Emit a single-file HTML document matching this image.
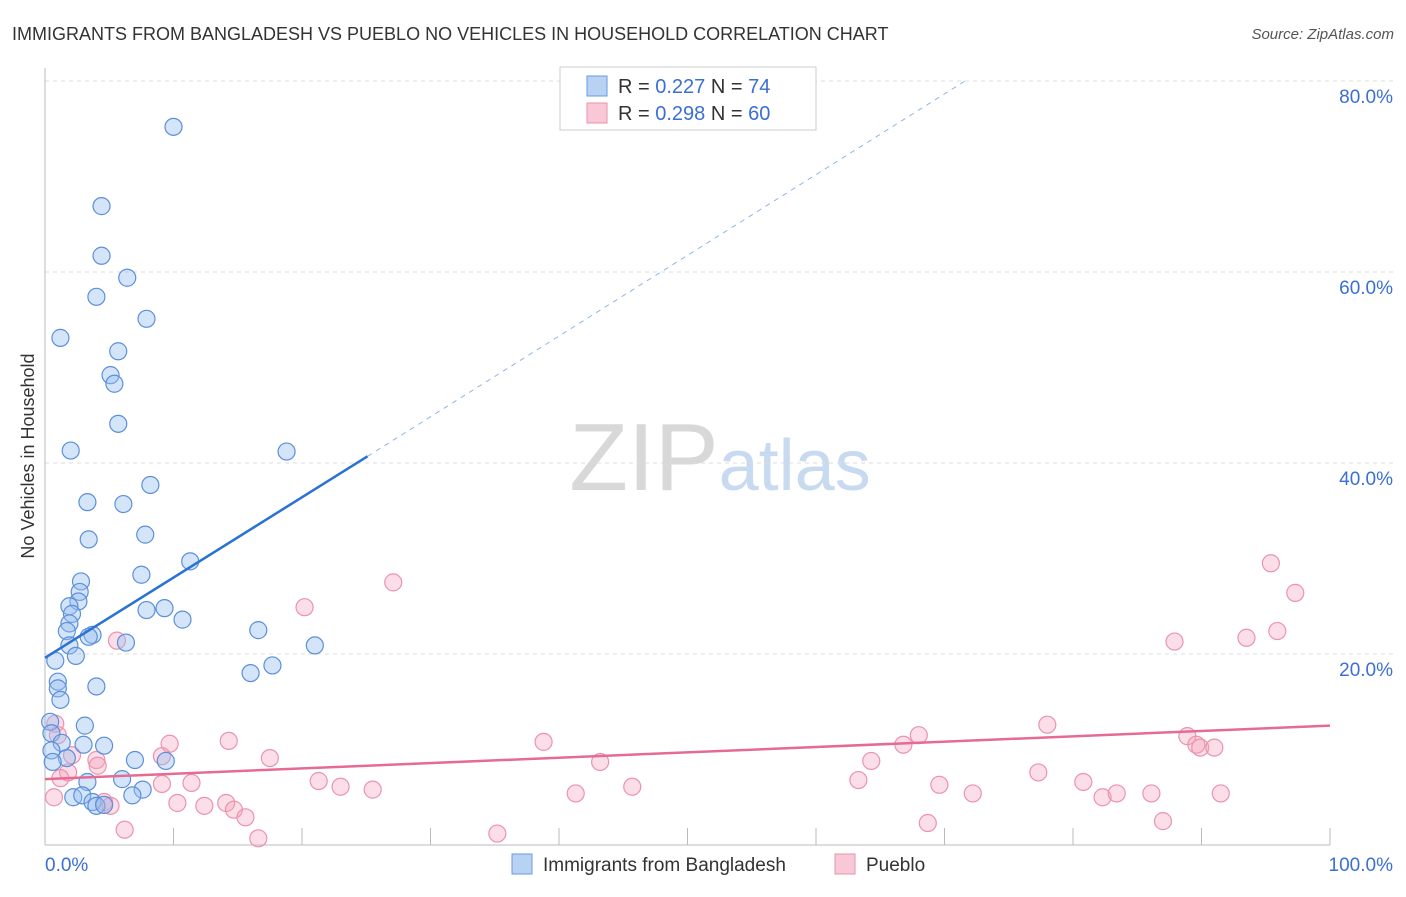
<!DOCTYPE html>
<html><head><meta charset="utf-8"><style>
body{margin:0;background:#fff;font-family:"Liberation Sans",sans-serif;}
svg text{font-family:"Liberation Sans",sans-serif;}
</style></head><body>
<svg width="1406" height="892" id="c">
<text x="12" y="40" font-size="18" fill="#333">IMMIGRANTS FROM BANGLADESH VS PUEBLO NO VEHICLES IN HOUSEHOLD CORRELATION CHART</text>
<text x="1394" y="39" font-size="15" fill="#555" font-style="italic" text-anchor="end">Source: ZipAtlas.com</text>
<text x="34" y="456" font-size="18" fill="#333" transform="rotate(-90 34 456)" text-anchor="middle">No Vehicles in Household</text>
<text x="720" y="490" font-size="96" fill="#ddd" text-anchor="middle" font-family="Liberation Serif"><tspan fill="#d8d8d8">ZIP</tspan><tspan fill="#c8daf0" font-family="Liberation Sans" font-size="72">atlas</tspan></text>
<g id="grid"></g><g id="pts"></g><g id="lines"></g>
<g>
<rect x="560" y="67" width="256" height="63" fill="#fff" stroke="#ccc"/>
<rect x="587" y="76" width="20" height="20" fill="#b8d2f4" stroke="#6a9ae0"/>
<rect x="587" y="103" width="20" height="20" fill="#f9c8d6" stroke="#e890aa"/>
<text x="618" y="93" font-size="20" fill="#333">R = <tspan fill="#3b6fd4">0.227</tspan>   N = <tspan fill="#3b6fd4">74</tspan></text>
<text x="618" y="120" font-size="20" fill="#333">R = <tspan fill="#3b6fd4">0.298</tspan>   N = <tspan fill="#3b6fd4">60</tspan></text>
</g>
<g>
<rect x="512" y="854" width="20" height="20" fill="#b8d2f4" stroke="#6a9ae0"/>
<text x="543" y="871" font-size="19" fill="#333">Immigrants from Bangladesh</text>
<rect x="835" y="854" width="20" height="20" fill="#f9c8d6" stroke="#e890aa"/>
<text x="866" y="871" font-size="19" fill="#333">Pueblo</text>
</g>
</svg>
<script>
const blueX=[10.0,4.4,4.4,6.4,4.0,7.9,1.2,5.7,5.1,5.4,5.7,2.0,18.8,8.2,3.3,6.1,3.4,7.8,11.3,2.8,7.5,2.7,2.6,1.9,2.1,7.9,9.3,10.7,1.9,1.7,3.7,3.4,16.6,6.3,1.9,2.4,21.0,0.8,17.7,16.0,1.0,1.0,4.0,1.2,3.1,0.4,0.5,1.3,3.0,4.6,0.5,1.7,0.6,7.0,9.4,6.0,3.3,2.2,2.9,7.6,6.8,3.7,4.0,4.6];
const blueY=[75.2,66.9,61.7,59.4,57.4,55.1,53.1,51.7,49.2,48.3,44.1,41.3,41.2,37.7,35.9,35.7,32.0,32.5,29.7,27.6,28.3,26.5,25.5,25.0,24.2,24.6,24.8,23.6,23.2,22.4,22.0,21.8,22.5,21.2,20.9,19.8,20.9,19.3,18.8,18.0,17.1,16.4,16.6,15.2,12.5,12.9,11.7,10.7,10.5,10.4,9.9,9.1,8.7,8.9,8.8,6.9,6.6,5.0,5.2,5.8,5.2,4.5,4.1,4.2];
const pinkX=[95.4,97.3,95.9,93.5,87.9,78.0,68.0,66.8,88.9,89.6,89.9,91.0,77.3,64.3,63.3,69.6,72.2,80.8,82.3,83.4,86.1,91.5,87.0,68.7,38.8,43.2,45.7,41.3,35.2,27.1,20.2,5.6,9.7,14.3,9.1,17.5,0.8,1.0,2.1,4.0,4.1,1.8,1.2,0.7,11.4,9.1,21.3,23.0,25.5,10.3,12.4,14.1,14.7,15.6,4.6,5.1,6.2,16.6];
const pinkY=[29.5,26.4,22.4,21.7,21.3,12.6,11.5,10.5,11.4,10.5,10.2,10.2,7.6,8.8,6.8,6.3,5.4,6.6,5.0,5.4,5.4,5.4,2.5,2.3,10.8,8.7,6.1,5.4,1.2,27.5,24.9,21.4,10.6,10.9,9.3,9.1,12.7,11.5,9.4,8.9,8.3,7.6,7.0,5.0,6.5,6.4,6.7,6.1,5.8,4.4,4.1,4.4,3.7,2.9,4.5,4.1,1.6,0.7];
const yTicks=[20,40,60,80];
const xTickMarks=[10,20,30,40,50,60,70,80,90,100];
const blueLine=[[0,19.6],[25.1,40.7]];
const blueDash=[[25.1,40.7],[71.6,80]];
const pinkLine=[[0,6.9],[100,12.5]];
const X=v=>45+v*12.85, Y=v=>845-v*9.55;
const NS='http://www.w3.org/2000/svg';
function mk(t,a,p){const e=document.createElementNS(NS,t);for(const k in a)e.setAttribute(k,a[k]);p.appendChild(e);return e;}
const g=document.getElementById('grid'),pts=document.getElementById('pts'),ln=document.getElementById('lines');
yTicks.forEach(t=>{
 const l=mk('line',{x1:45,x2:1394,y1:Y(t),y2:Y(t),stroke:'#ddd','stroke-dasharray':'4,4'},g);
 
 
 const tx=mk('text',{x:1393,y:Y(t)+22,'font-size':19,fill:'#3b6fd4','text-anchor':'end'},g);tx.textContent=t.toFixed(1)+'%';
 
 
});
mk('line',{x1:45,x2:45,y1:68,y2:845,stroke:'#bbb'},g);
mk('line',{x1:45,x2:1330,y1:845,y2:845,stroke:'#bbb'},g);
xTickMarks.forEach(t=>{const l=mk('line',{x1:X(t),x2:X(t),y1:828,y2:845,stroke:'#bbb'},g);
 
 });
[[0,'0.0%',45,'start'],[100,'100.0%',1393,'end']].forEach(a=>{const t=mk('text',{x:a[2],y:871,'font-size':19,fill:'#3b6fd4','text-anchor':a[3]},g);t.textContent=a[1];
 
 });
pinkX.forEach((x,i)=>{const c=mk('circle',{cx:X(x),cy:Y(pinkY[i]),r:8.5,fill:'rgba(244,160,186,0.35)',stroke:'#eb93ae','stroke-width':1.2},pts);
 
 });
blueX.forEach((x,i)=>{const c=mk('circle',{cx:X(x),cy:Y(blueY[i]),r:8.5,fill:'rgba(150,190,240,0.4)',stroke:'#5b8fdb','stroke-width':1.2},pts);
 
 });
function line(p,attrs,name){const l=mk('line',Object.assign({x1:X(p[0][0]),y1:Y(p[0][1]),x2:X(p[1][0]),y2:Y(p[1][1])},attrs),ln);
 
 }
line(blueLine,{stroke:'#2a72d4','stroke-width':2.5},'bangladesh-trend');
line(blueDash,{stroke:'#8fb4e6','stroke-width':1,'stroke-dasharray':'5,5'},'bangladesh-trend-extension');
line(pinkLine,{stroke:'#e56b94','stroke-width':2.5},'pueblo-trend');
</script>
</body></html>
